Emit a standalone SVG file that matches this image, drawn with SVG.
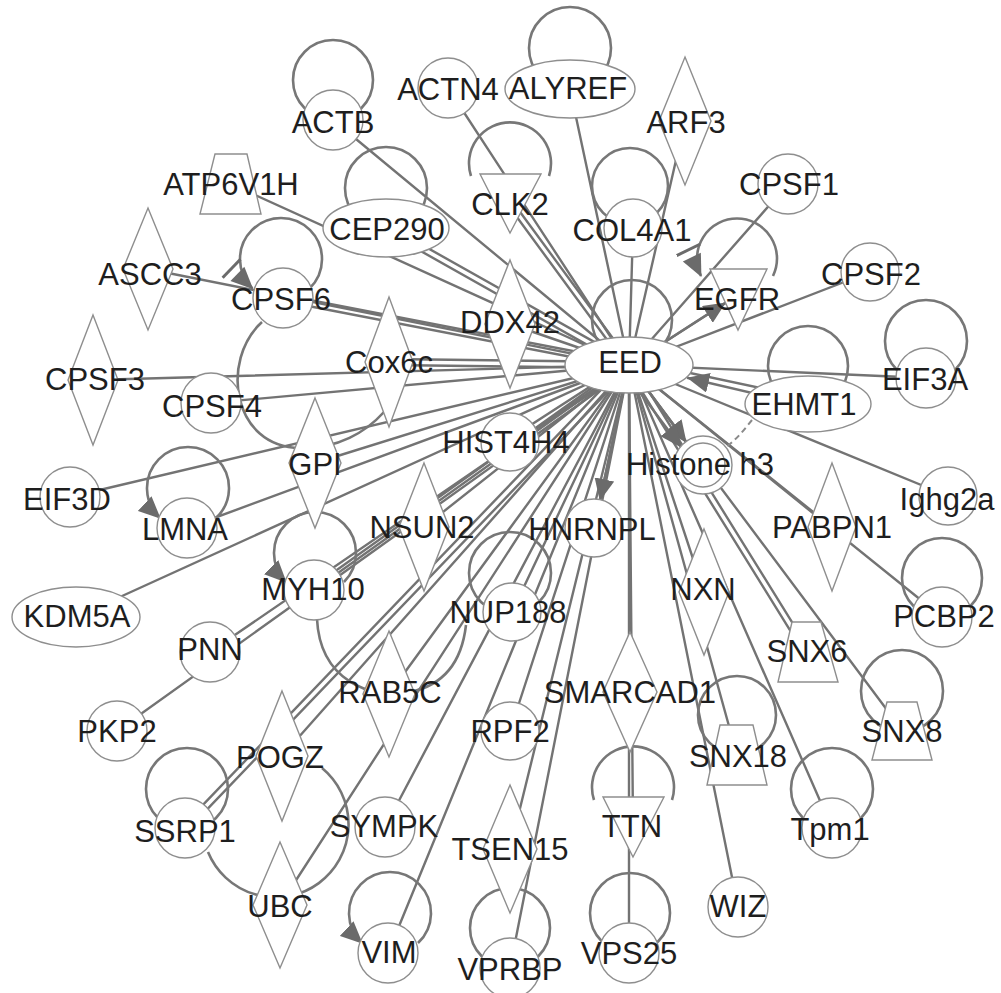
<svg xmlns="http://www.w3.org/2000/svg" width="1001" height="993" viewBox="0 0 1001 993">
<style>
.e{stroke:#737373;stroke-width:2.4;fill:none;stroke-linecap:round}
.l{stroke:#777;stroke-width:2.6;fill:none}
.d{stroke:#8a8a8a;stroke-width:2;fill:none;stroke-dasharray:6 4}
.n{fill:#fff;stroke:#8e8e8e;stroke-width:1.4}
text{font-family:"Liberation Sans",Arial,sans-serif;font-size:31px;fill:#1e1e1e;text-anchor:middle}
</style>
<defs>
<marker id="ah" markerUnits="userSpaceOnUse" markerWidth="22" markerHeight="20" viewBox="0 0 22 20" refX="21" refY="10" orient="auto"><path d="M0,0 L22,10 L0,20 z" fill="#6b6b6b"/></marker>
<marker id="ahb" markerUnits="userSpaceOnUse" markerWidth="32" markerHeight="26" viewBox="0 0 32 26" refX="31" refY="13" orient="auto"><path d="M2,0 L2,26" stroke="#6b6b6b" stroke-width="3"/><path d="M10,3 L32,13 L10,23 z" fill="#6b6b6b"/></marker>
</defs>
<g id="connectors">
<g class="e">
<line x1="629" y1="365" x2="333" y2="120"/>
<line x1="629" y1="365" x2="448" y2="88"/>
<line x1="629" y1="365" x2="570" y2="89"/>
<line x1="629" y1="365" x2="685" y2="121"/>
<line x1="629" y1="365" x2="633" y2="228"/>
<line x1="512" y1="201" x2="631" y2="363"/>
<line x1="508" y1="205" x2="627" y2="367"/>
<line x1="387.5" y1="225.4" x2="630.5" y2="362.4"/>
<line x1="384.5" y1="230.6" x2="627.5" y2="367.6"/>
<line x1="629" y1="365" x2="231" y2="184"/>
<line x1="629" y1="365" x2="148" y2="269"/>
<line x1="283.6" y1="295" x2="629.6" y2="362"/>
<line x1="282.4" y1="301" x2="628.4" y2="368"/>
<line x1="629" y1="365" x2="510" y2="324"/>
<line x1="389" y1="359" x2="629" y2="362"/>
<line x1="389" y1="365" x2="629" y2="368"/>
<line x1="629" y1="365" x2="93" y2="380"/>
<line x1="629" y1="365" x2="211" y2="403"/>
<line x1="629" y1="365" x2="315" y2="463"/>
<line x1="629" y1="365" x2="70" y2="497"/>
<line x1="629" y1="365" x2="187" y2="528"/>
<line x1="629" y1="365" x2="76" y2="617"/>
<line x1="511.6" y1="444.5" x2="630.6" y2="367.5"/>
<line x1="508.4" y1="439.5" x2="627.4" y2="362.5"/>
<line x1="629" y1="365" x2="424" y2="527"/>
<line x1="315.7" y1="592.4" x2="630.7" y2="367.4"/>
<line x1="312.3" y1="587.6" x2="627.3" y2="362.6"/>
<line x1="629" y1="365" x2="210" y2="652"/>
<line x1="629" y1="365" x2="117" y2="731"/>
<line x1="629" y1="365" x2="512" y2="612"/>
<line x1="629" y1="365" x2="389" y2="694"/>
<line x1="629" y1="365" x2="282" y2="756"/>
<line x1="187.2" y1="830.1" x2="631.2" y2="367.1"/>
<line x1="182.8" y1="825.9" x2="626.8" y2="362.9"/>
<line x1="629" y1="365" x2="280" y2="905"/>
<line x1="629" y1="365" x2="385" y2="827"/>
<line x1="629" y1="365" x2="388" y2="953"/>
<line x1="629" y1="365" x2="510" y2="731"/>
<line x1="629" y1="365" x2="510" y2="849"/>
<line x1="629" y1="365" x2="510" y2="968"/>
<line x1="629" y1="365" x2="594" y2="528"/>
<line x1="629" y1="365" x2="630" y2="692"/>
<line x1="629" y1="365" x2="633" y2="827"/>
<line x1="629" y1="365" x2="629" y2="953"/>
<line x1="629" y1="365" x2="704" y2="592"/>
<line x1="629" y1="365" x2="738" y2="907"/>
<line x1="629" y1="365" x2="737" y2="755"/>
<line x1="629" y1="365" x2="832" y2="828"/>
<line x1="809.5" y1="650.4" x2="631.5" y2="363.4"/>
<line x1="804.5" y1="653.6" x2="626.5" y2="366.6"/>
<line x1="629" y1="365" x2="902" y2="730"/>
<line x1="629" y1="365" x2="703" y2="465"/>
<line x1="629" y1="365" x2="832" y2="527"/>
<line x1="629" y1="365" x2="942" y2="617"/>
<line x1="629" y1="365" x2="948" y2="496"/>
<line x1="629" y1="360" x2="808" y2="398"/>
<line x1="629" y1="365" x2="926" y2="378"/>
<line x1="629" y1="365" x2="870" y2="272"/>
<line x1="629" y1="365" x2="788" y2="184"/>
<line x1="629" y1="365" x2="738" y2="295"/>
<line x1="808" y1="406" x2="688" y2="378" marker-end="url(#ah)"/>
<line x1="629" y1="365" x2="686" y2="442" marker-end="url(#ah)"/>
<line x1="623" y1="370" x2="681" y2="447" marker-end="url(#ah)"/>
<line x1="629" y1="365" x2="600" y2="500" marker-end="url(#ah)"/>
<line x1="629" y1="365" x2="725" y2="303" marker-end="url(#ah)"/>
</g>
<g class="l">
<circle cx="333" cy="80" r="40"/>
<circle cx="386" cy="188" r="41"/>
<circle cx="570" cy="48" r="41"/>
<circle cx="630" cy="186" r="38"/>
<circle cx="632" cy="320" r="40"/>
<circle cx="926" cy="341" r="41"/>
<circle cx="808" cy="366" r="40"/>
<circle cx="942" cy="578" r="40"/>
<circle cx="902" cy="691" r="41"/>
<circle cx="737" cy="715" r="39"/>
<circle cx="832" cy="789" r="41"/>
<circle cx="630" cy="913" r="40"/>
<circle cx="510" cy="928" r="40"/>
<circle cx="510" cy="573" r="41"/>
<circle cx="187" cy="789" r="41"/>
<path d="M471,176 A41,41 0 1 1 549,176"/>
<path d="M594,800 A41,41 0 1 1 672,800"/>
<path d="M309.5,288.5 A41,41 0 1 0 252.5,288.5" marker-end="url(#ahb)"/>
<path d="M773,276 A40,40 0 1 0 701,276" marker-end="url(#ahb)"/>
<path d="M216,518 A41,41 0 1 0 160,518" marker-end="url(#ah)"/>
<path d="M344,582 A41,41 0 1 0 286,582" marker-end="url(#ah)"/>
<path d="M418,943 A41,41 0 1 0 362,943" marker-end="url(#ah)"/>
<path d="M262,322 C220,360 232,447 300,448 C338,449 366,432 384,412"/>
<path d="M317,619 C320,680 370,700 410,692 C445,685 462,660 466,625"/>
<path d="M208,852 A73,73 0 1 0 322,768"/>
</g>
<path class="d" d="M752,420 C744,430 736,440 726,447"/>
</g>
<g id="node-ACTB"><circle class="n" cx="333" cy="120" r="30"/><text x="333" y="133">ACTB</text></g>
<g id="node-ACTN4"><circle class="n" cx="448" cy="88" r="30"/><text x="448" y="100">ACTN4</text></g>
<g id="node-ALYREF"><ellipse class="n" cx="570" cy="89" rx="65" ry="29"/><text x="568" y="99">ALYREF</text></g>
<g id="node-ARF3"><polygon class="n" points="685,57 711,121 685,185 659,121"/><text x="686" y="133">ARF3</text></g>
<g id="node-ATP6V1H"><polygon class="n" points="215,154 247,154 261,214 200,214"/><text x="231" y="195">ATP6V1H</text></g>
<g id="node-CLK2"><polygon class="n" points="480,174 541,174 510,233"/><text x="510" y="215">CLK2</text></g>
<g id="node-CEP290"><ellipse class="n" cx="386" cy="228" rx="63" ry="29"/><text x="387" y="240">CEP290</text></g>
<g id="node-COL4A1"><circle class="n" cx="633" cy="228" r="29"/><text x="632" y="241">COL4A1</text></g>
<g id="node-CPSF1"><circle class="n" cx="788" cy="184" r="30"/><text x="789" y="195">CPSF1</text></g>
<g id="node-ASCC3"><polygon class="n" points="148,208 173,269 148,330 123,269"/><text x="150" y="285">ASCC3</text></g>
<g id="node-CPSF6"><circle class="n" cx="283" cy="298" r="30"/><text x="281" y="310">CPSF6</text></g>
<g id="node-EGFR"><polygon class="n" points="710,269 767,269 738,330"/><text x="737" y="310">EGFR</text></g>
<g id="node-CPSF2"><circle class="n" cx="870" cy="272" r="29"/><text x="871" y="285">CPSF2</text></g>
<g id="node-DDX42"><polygon class="n" points="510,260 535,324 510,388 485,324"/><text x="510" y="333">DDX42</text></g>
<g id="node-Cox6c"><polygon class="n" points="389,297 413,362 389,427 365,362"/><text x="389" y="373">Cox6c</text></g>
<g id="node-CPSF3"><polygon class="n" points="93,315 118,380 93,445 68,380"/><text x="95" y="390">CPSF3</text></g>
<g id="node-EIF3A"><circle class="n" cx="926" cy="378" r="30"/><text x="925" y="390">EIF3A</text></g>
<g id="node-CPSF4"><circle class="n" cx="211" cy="403" r="30"/><text x="212" y="417">CPSF4</text></g>
<g id="node-EHMT1"><ellipse class="n" cx="808" cy="404" rx="63" ry="28"/><text x="804" y="415">EHMT1</text></g>
<g id="node-EED"><ellipse class="n" cx="629" cy="365" rx="64" ry="28"/><text x="630" y="373">EED</text></g>
<g id="node-HIST4H4"><circle class="n" cx="510" cy="442" r="29"/><text x="506" y="453">HIST4H4</text></g>
<g id="node-GPI"><polygon class="n" points="315,398 341,463 315,528 289,463"/><text x="315" y="475">GPI</text></g>
<g id="node-Histone-h3"><circle class="n" cx="703" cy="465" r="29"/><circle class="n" cx="703" cy="465" r="22"/><text x="700" y="475">Histone h3</text></g>
<g id="node-EIF3D"><circle class="n" cx="70" cy="497" r="30"/><text x="67" y="510">EIF3D</text></g>
<g id="node-Ighg2a"><circle class="n" cx="948" cy="496" r="29"/><text x="947" y="510">Ighg2a</text></g>
<g id="node-LMNA"><circle class="n" cx="187" cy="528" r="30"/><text x="185" y="540">LMNA</text></g>
<g id="node-NSUN2"><polygon class="n" points="424,463 449,527 424,591 399,527"/><text x="422" y="538">NSUN2</text></g>
<g id="node-HNRNPL"><circle class="n" cx="594" cy="528" r="29"/><text x="592" y="540">HNRNPL</text></g>
<g id="node-PABPN1"><polygon class="n" points="832,463 856,527 832,591 808,527"/><text x="832" y="538">PABPN1</text></g>
<g id="node-MYH10"><circle class="n" cx="314" cy="590" r="30"/><text x="313" y="600">MYH10</text></g>
<g id="node-NXN"><polygon class="n" points="704,529 729,592 704,655 679,592"/><text x="703" y="600">NXN</text></g>
<g id="node-NUP188"><circle class="n" cx="512" cy="612" r="29"/><text x="508" y="623">NUP188</text></g>
<g id="node-KDM5A"><ellipse class="n" cx="76" cy="617" rx="64" ry="30"/><text x="77" y="627">KDM5A</text></g>
<g id="node-PCBP2"><circle class="n" cx="942" cy="617" r="30"/><text x="944" y="627">PCBP2</text></g>
<g id="node-PNN"><circle class="n" cx="210" cy="652" r="30"/><text x="210" y="660">PNN</text></g>
<g id="node-SNX6"><polygon class="n" points="792,622 821,622 838,682 778,682"/><text x="807" y="662">SNX6</text></g>
<g id="node-RAB5C"><polygon class="n" points="389,631 415,694 389,757 363,694"/><text x="390" y="703">RAB5C</text></g>
<g id="node-SMARCAD1"><polygon class="n" points="630,632 657,692 630,752 603,692"/><text x="630" y="703">SMARCAD1</text></g>
<g id="node-PKP2"><circle class="n" cx="117" cy="731" r="30"/><text x="117" y="742">PKP2</text></g>
<g id="node-RPF2"><circle class="n" cx="510" cy="731" r="29"/><text x="510" y="742">RPF2</text></g>
<g id="node-SNX8"><polygon class="n" points="887,702 917,702 932,760 872,760"/><text x="902" y="742">SNX8</text></g>
<g id="node-SNX18"><polygon class="n" points="720,725 753,725 767,785 707,785"/><text x="738" y="767">SNX18</text></g>
<g id="node-POGZ"><polygon class="n" points="282,691 308,756 282,821 256,756"/><text x="280" y="768">POGZ</text></g>
<g id="node-SSRP1"><circle class="n" cx="185" cy="828" r="30"/><text x="185" y="842">SSRP1</text></g>
<g id="node-SYMPK"><circle class="n" cx="385" cy="827" r="30"/><text x="384" y="837">SYMPK</text></g>
<g id="node-TTN"><polygon class="n" points="603,797 664,797 633,857"/><text x="632" y="837">TTN</text></g>
<g id="node-Tpm1"><circle class="n" cx="832" cy="828" r="30"/><text x="830" y="840">Tpm1</text></g>
<g id="node-TSEN15"><polygon class="n" points="510,785 537,849 510,913 483,849"/><text x="510" y="860">TSEN15</text></g>
<g id="node-UBC"><polygon class="n" points="280,842 307,905 280,968 253,905"/><text x="280" y="917">UBC</text></g>
<g id="node-WIZ"><circle class="n" cx="738" cy="907" r="30"/><text x="738" y="917">WIZ</text></g>
<g id="node-VIM"><circle class="n" cx="388" cy="953" r="30"/><text x="389" y="963">VIM</text></g>
<g id="node-VPS25"><circle class="n" cx="629" cy="953" r="30"/><text x="629" y="964">VPS25</text></g>
<g id="node-VPRBP"><circle class="n" cx="510" cy="968" r="30"/><text x="510" y="980">VPRBP</text></g>
</svg>
